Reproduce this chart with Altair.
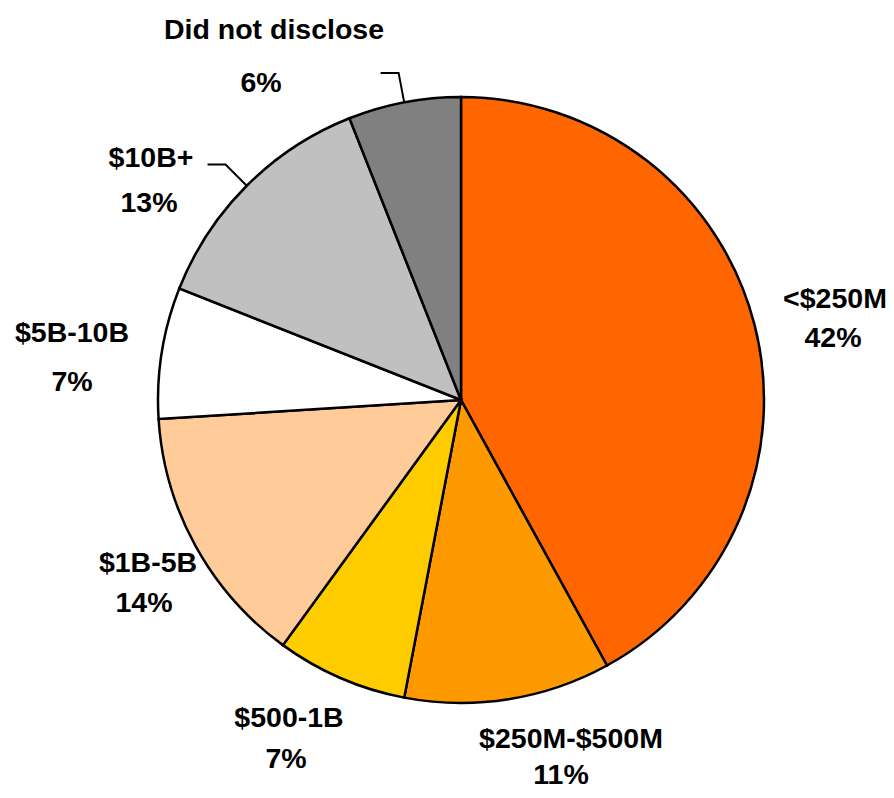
import math
import altair as alt
import pandas as pd

# ---- data ----
categories = ["<$250M", "$250M-$500M", "$500-1B", "$1B-5B", "$5B-10B", "$10B+", "Did not disclose"]
shares = [42, 11, 7, 14, 7, 13, 6]
pct_labels = ["42%", "11%", "7%", "14%", "7%", "13%", "6%"]

# ---- styling / layout (kept separate from data) ----
colors = ["#FF6600", "#FF9900", "#FFCC00", "#FFCC99", "#FFFFFF", "#C0C0C0", "#808080"]
CX, CY, R = 453, 392, 303          # pie centre and radius in chart pixels
FONT = "Liberation Sans"
FS = 28.5
# label offsets from pie centre (name line, percent line)
name_off = [(374, -103), (110, 337), (-172, 316), (-313, 161), (-389, -69), (-310, -244), (-187, -372)]
pct_off = [(372, -64), (100, 373), (-175, 357), (-317, 201), (-389, -20), (-312, -199), (-200, -319)]
leader_for = ["$10B+", "Did not disclose"]
BASE_FIX = 2

pie_df = pd.DataFrame({"cat": categories, "share": shares, "order": list(range(len(categories)))})

arc = alt.Chart(pie_df).mark_arc(outerRadius=R, stroke="black", strokeWidth=2.5).encode(
    theta=alt.Theta("share:Q", stack=True),
    order=alt.Order("order:Q"),
    color=alt.Color("cat:N", scale=alt.Scale(domain=categories, range=colors), legend=None),
    x=alt.value(CX),
    y=alt.value(CY),
)

rows = []
for c, p, (nx, ny), (px, py) in zip(categories, pct_labels, name_off, pct_off):
    rows.append({"t": c, "x": CX + nx, "y": CY + ny + BASE_FIX})
    rows.append({"t": p, "x": CX + px, "y": CY + py + BASE_FIX})
text_df = pd.DataFrame(rows)

text = alt.Chart(text_df).mark_text(
    font=FONT, fontSize=FS, fontWeight="bold", color="black", align="center", baseline="middle"
).encode(
    x=alt.X("x:Q", scale=None, axis=None),
    y=alt.Y("y:Q", scale=None, axis=None),
    text="t:N",
)

# leader lines: start on the arc at slice mid-angle, elbow, then short horizontal
total = sum(shares)
cum = 0
lrows = []
for c, s in zip(categories, shares):
    mid = (cum + s / 2) / total * 2 * math.pi
    cum += s
    if c in leader_for:
        x0, y0 = CX + R * math.sin(mid), CY - R * math.cos(mid)
        x1, y1 = CX + (R + 30) * math.sin(mid), CY - (R + 30) * math.cos(mid)
        x2 = x1 - 18
        for i, (xx, yy) in enumerate([(x0, y0), (x1, y1), (x2, y1)]):
            lrows.append({"cat": c, "i": i, "x": xx, "y": yy})
lead_df = pd.DataFrame(lrows)

leaders = alt.Chart(lead_df).mark_line(color="black", strokeWidth=2).encode(
    x=alt.X("x:Q", scale=None, axis=None),
    y=alt.Y("y:Q", scale=None, axis=None),
    detail="cat:N",
    order="i:Q",
)

chart = alt.layer(arc, leaders, text).properties(
    width=878, height=782, autosize="none", padding=0
).configure_view(stroke=None)

chart.save("out.html", embed_options={"renderer": "svg", "actions": False})
